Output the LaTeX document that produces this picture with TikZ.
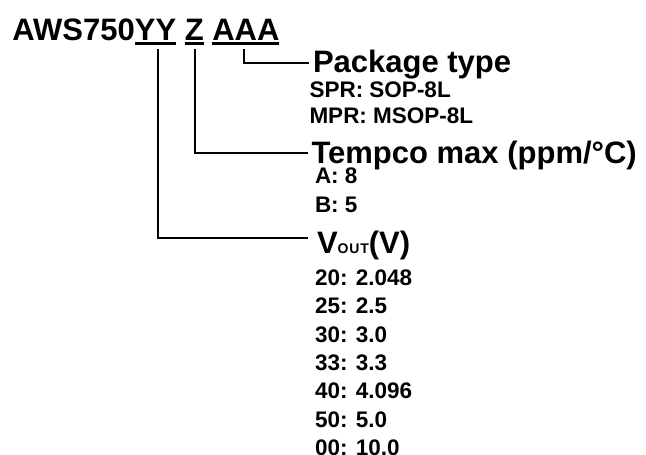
\documentclass[tikz,border=0pt]{standalone}
\usepackage{fontspec}
\setmainfont{Liberation Sans}
\newfontfamily\bigf{Liberation Sans Bold}
\newfontfamily\smallf{Liberation Sans Bold}
\newfontfamily\subf{Liberation Sans Bold}[LetterSpace=6]
\begin{document}
\begin{tikzpicture}[x=1pt,y=-1pt,
  every node/.style={inner sep=0pt,outer sep=0pt,anchor=base west},
  big/.style={font=\bigf\fontsize{31}{31}\selectfont},
  small/.style={font=\smallf\fontsize{22.5}{22.5}\selectfont},
  uline/.style={line width=2.7pt},
  conn/.style={line width=1.7pt}]
\useasboundingbox (0,0) rectangle (646,455);
% title
\node[big] (t1) at (12.5,40) {AWS750};
\node[big] (yy) at (t1.base east) {YY};
\node[big] (z) at ([xshift=8.6pt]yy.base east) {Z};
\node[big] (aaa) at ([xshift=8.6pt]z.base east) {AAA};
\draw[uline] ([yshift=-3.7pt]yy.base west) -- ([yshift=-3.7pt]yy.base east);
\draw[uline] ([yshift=-3.7pt]z.base west) -- ([yshift=-3.7pt]z.base east);
\draw[uline] ([yshift=-3.7pt]aaa.base west) -- ([yshift=-3.7pt]aaa.base east);
% package
\node[big] (pkg) at (313,72) {Package type};
\node[small] (spr) at (309.5,97) {SPR: SOP-8L};
\node[small] (mpr) at (309.5,123) {MPR: MSOP-8L};
% tempco
\node[big] (tempco) at (311.5,163) {Tempco max (ppm/°C)};
\node[small] (ta) at (315,183) {A: 8};
\node[small] (tb) at (315,212) {B: 5};
% vout
\node[big] (vout) at (317,253) {V{\subf\fontsize{14}{14}\selectfont OUT}(V)};
\node[small] (v1) at (315,285) {20: 2.048};
\node[small] (v2) at (315,313) {25: 2.5};
\node[small] (v3) at (315,342) {30: 3.0};
\node[small] (v4) at (315,370) {33: 3.3};
\node[small] (v5) at (315,398) {40: 4.096};
\node[small] (v6) at (315,427) {50: 5.0};
\node[small] (v7) at (315,455) {00: 10.0};
% connectors
\draw[conn] ([xshift=2.5pt,yshift=-9pt]yy.base) |- ([xshift=-9pt,yshift=15pt]vout.base west);
\draw[conn] ([xshift=1pt,yshift=-9pt]z.base) |- ([xshift=-4pt,yshift=10pt]tempco.base west);
\draw[conn] ([xshift=-2pt,yshift=-9pt]aaa.base) |- ([xshift=-4pt,yshift=9pt]pkg.base west);
\end{tikzpicture}
\end{document}
